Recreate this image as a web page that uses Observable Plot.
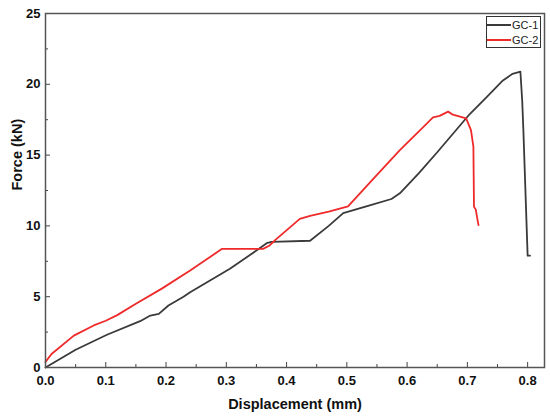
<!DOCTYPE html>
<html>
<head>
<meta charset="utf-8">
<script src="https://cdn.jsdelivr.net/npm/d3@7"></script>
<script src="https://cdn.jsdelivr.net/npm/@observablehq/plot@0.6"></script>
<style>
  html, body { margin: 0; padding: 0; background: #fff; }
  #wrap { position: relative; width: 550px; height: 417px; font-family: "Liberation Sans", Arial, sans-serif; }
  #legend { position: absolute; left: 486px; top: 16px; width: 53px; height: 30px; border: 1px solid #333; background: #fff; font-size: 11px; color: #222; }
  .row { position: absolute; left: 0; height: 15px; display: flex; align-items: center; }
  .sw { display: inline-block; width: 24px; height: 2px; margin-right: 1px; }
</style>
</head>
<body>
<div id="wrap"></div>
<script>
// ---- data ----
const seriesNames = ["GC-1", "GC-2"];
const seriesColors = ["#3a3a3a", "#ee2a2a"];

const gc1X = [0, 0.05, 0.102, 0.157, 0.174, 0.188, 0.204, 0.229, 0.24, 0.306, 0.35, 0.367, 0.375, 0.439, 0.47, 0.494, 0.538, 0.574, 0.588, 0.62, 0.65, 0.704, 0.73, 0.759, 0.775, 0.788, 0.791, 0.793, 0.800, 0.804];
const gc1Y = [0, 1.25, 2.31, 3.27, 3.67, 3.79, 4.38, 5.0, 5.32, 6.97, 8.26, 8.78, 8.87, 8.95, 10.0, 10.9, 11.45, 11.9, 12.3, 13.75, 15.2, 17.9, 19.0, 20.27, 20.74, 20.9, 18.86, 16.7, 7.9, 7.9];

const gc2X = [0, 0.01, 0.047, 0.08, 0.10, 0.119, 0.15, 0.193, 0.24, 0.293, 0.361, 0.372, 0.381, 0.422, 0.439, 0.47, 0.502, 0.55, 0.588, 0.62, 0.643, 0.654, 0.668, 0.676, 0.698, 0.706, 0.710, 0.711, 0.714, 0.716, 0.7185];
const gc2Y = [0.4, 0.95, 2.25, 2.97, 3.3, 3.7, 4.5, 5.57, 6.85, 8.38, 8.38, 8.62, 9.0, 10.5, 10.7, 11.0, 11.38, 13.6, 15.35, 16.7, 17.67, 17.77, 18.07, 17.85, 17.6, 16.77, 15.6, 11.35, 11.15, 10.64, 10.06];

const xDomain = [0, 0.828];
const yDomain = [0, 25];
const xTicks = [0, 0.1, 0.2, 0.3, 0.4, 0.5, 0.6, 0.7, 0.8];
const xMinor = [0.05, 0.15, 0.25, 0.35, 0.45, 0.55, 0.65, 0.75];
const yTicks = [0, 5, 10, 15, 20, 25];
const yMinor = [2.5, 7.5, 12.5, 17.5, 22.5];
const xLabel = "Displacement (mm)";
const yLabel = "Force (kN)";

// ---- build ----
const W = 550, H = 417, mL = 45, mR = 6, mT = 13, mB = 50;
const plotW = W - mL - mR, plotH = H - mT - mB;
const rows = (xs, ys) => xs.map((x, i) => ({x, y: ys[i]}));
const gc1 = rows(gc1X, gc1Y);
const gc2 = rows(gc2X, gc2Y);

const chart = Plot.plot({
  width: W, height: H,
  marginLeft: mL, marginRight: mR, marginTop: mT, marginBottom: mB,
  style: {fontFamily: "'Liberation Sans', Arial, sans-serif", background: "#fff", color: "#111"},
  x: {domain: xDomain},
  y: {domain: yDomain},
  marks: [
    Plot.axisX({ticks: xTicks, tickSize: 0, tickPadding: 8, tickFormat: d3.format(".1f"), fontSize: 13, fontWeight: "bold", label: null}),
    Plot.axisY({ticks: yTicks, tickSize: 0, tickPadding: 5, tickFormat: d3.format("d"), fontSize: 13, fontWeight: "bold", label: null}),
    Plot.ruleX(xTicks, {x: d => d, insetTop: plotH - 5, stroke: "#444", strokeWidth: 1}),
    Plot.ruleX(xMinor, {x: d => d, insetTop: plotH - 3, stroke: "#444", strokeWidth: 1}),
    Plot.ruleY(yTicks, {y: d => d, insetRight: plotW - 5, stroke: "#444", strokeWidth: 1}),
    Plot.ruleY(yMinor, {y: d => d, insetRight: plotW - 3, stroke: "#444", strokeWidth: 1}),
    Plot.line(gc1, {x: "x", y: "y", stroke: seriesColors[0], strokeWidth: 1.8}),
    Plot.line(gc2, {x: "x", y: "y", stroke: seriesColors[1], strokeWidth: 1.8}),
    Plot.frame({stroke: "#555", strokeWidth: 1.5}),
    Plot.text([xLabel], {frameAnchor: "bottom", dy: 37, text: d => d, fontSize: 14.5, fontWeight: "bold", fill: "#111", lineAnchor: "middle"}),
    Plot.text([yLabel], {frameAnchor: "left", dx: -28, text: d => d, rotate: -90, fontSize: 14.5, fontWeight: "bold", fill: "#111", lineAnchor: "middle"})
  ]
});

const wrap = document.getElementById("wrap");
wrap.appendChild(chart);

// legend overlay
const leg = document.createElement("div");
leg.id = "legend";
seriesNames.forEach((name, i) => {
  const r = document.createElement("div");
  r.className = "row";
  r.style.top = (i * 15) + "px";
  const sw = document.createElement("span");
  sw.className = "sw";
  sw.style.background = seriesColors[i];
  const t = document.createElement("span");
  t.textContent = name;
  r.appendChild(sw); r.appendChild(t);
  leg.appendChild(r);
});
wrap.appendChild(leg);
</script>
</body>
</html>
